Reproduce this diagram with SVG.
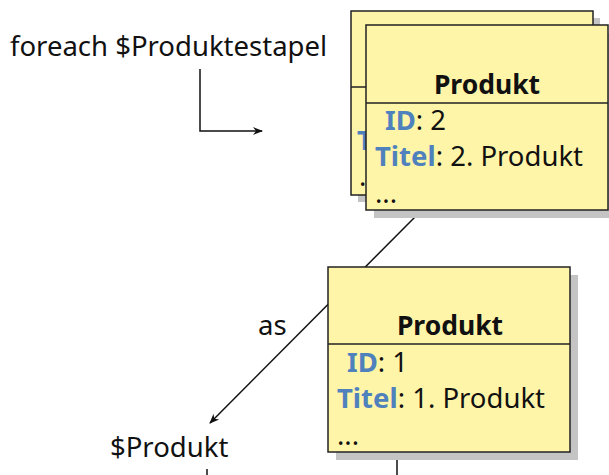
<svg xmlns="http://www.w3.org/2000/svg" width="609" height="475" viewBox="0 0 609 475">
<style>
.box{fill:#fff5a9;stroke:#222;stroke-width:1.5}
.shadow{fill:#c4c4c4}
.div{stroke:#222;stroke-width:1.5}
.t{font-family:"Noto Sans","Open Sans",sans-serif;font-size:27.5px;fill:#111}
.title{font-weight:bold;text-anchor:middle;font-size:26.5px}
.key{font-weight:bold;fill:#4f81bd}
.conn{stroke:#111;stroke-width:1.5;fill:none}
</style>
<defs>
<marker id="arr" viewBox="0 0 10 10" refX="9" refY="5" markerWidth="10" markerHeight="10" markerUnits="userSpaceOnUse" orient="auto">
<path d="M0,1 L10,5 L0,9 L3,5 Z" fill="#111"/>
</marker>
</defs>
<g id="connectors">
<path class="conn" d="M200,69 V131 H262" marker-end="url(#arr)"/>
<path class="conn" d="M417,215 L210,423" marker-end="url(#arr)"/>
<path class="conn" d="M397,453 V475"/>
<path class="conn" d="M207,469 V475"/>
</g>
<g id="label-foreach"><text class="t" x="10" y="56">foreach $Produktestapel</text></g>
<g id="label-as"><text class="t" x="258" y="335">as</text></g>
<g id="label-produkt"><text class="t" x="110" y="457">$Produkt</text></g>
<g id="produkt-back">
<rect class="shadow" x="358" y="18" width="242" height="184"/>
<rect class="box" x="351" y="11" width="242" height="184"/>
<line class="div" x1="351" y1="87" x2="593" y2="87"/>
<text class="t" x="357" y="150"><tspan class="key">T</tspan></text>
<text class="t" x="359" y="186">...</text>
</g>
<g id="produkt-2">
<rect class="shadow" x="374" y="33" width="242" height="185"/>
<rect class="box" x="366" y="25" width="242" height="185"/>
<line class="div" x1="366" y1="103" x2="608" y2="103"/>
<text class="t title" x="487" y="94">Produkt</text>
<text class="t" x="385" y="130"><tspan class="key">ID</tspan>: 2</text>
<text class="t" x="375" y="166"><tspan class="key">Titel</tspan>: 2. Produkt</text>
<text class="t" x="375" y="203">...</text>
</g>
<g id="produkt-1">
<rect class="shadow" x="336" y="275" width="242" height="185"/>
<rect class="box" x="328" y="267" width="242" height="185"/>
<line class="div" x1="328" y1="344" x2="570" y2="344"/>
<text class="t title" x="450" y="335">Produkt</text>
<text class="t" x="347" y="372"><tspan class="key">ID</tspan>: 1</text>
<text class="t" x="337" y="408"><tspan class="key">Titel</tspan>: 1. Produkt</text>
<text class="t" x="337" y="445">...</text>
</g>
</svg>
